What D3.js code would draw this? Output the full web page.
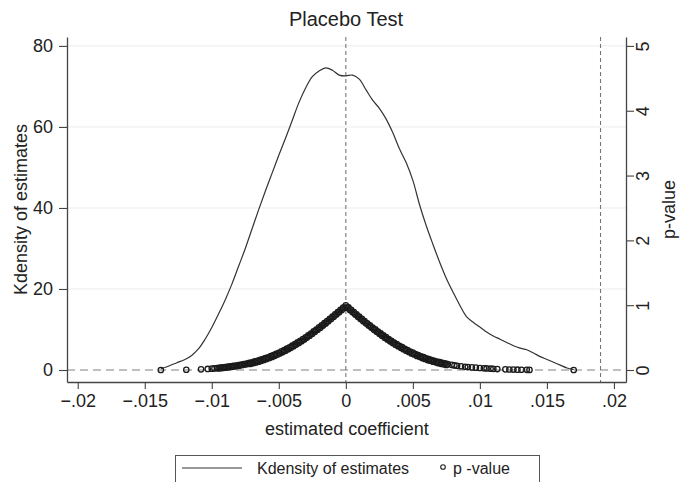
<!DOCTYPE html>
<html>
<head>
<meta charset="utf-8">
<script src="https://cdn.jsdelivr.net/npm/d3@7"></script>
<style>
  body { margin: 0; background: #fff; }
  svg { display: block; font-family: "Liberation Sans", Arial, sans-serif; }
</style>
</head>
<body>
<svg></svg>
<script>
'use strict';

// Kernel density of the placebo estimates (coefficient, density)
var densityCoef = [-0.0138, -0.0132, -0.0126, -0.0120, -0.0115, -0.0110, -0.0105, -0.0100, -0.0095, -0.0090,
  -0.0085, -0.0080, -0.0075, -0.0070, -0.0065, -0.0060, -0.0055, -0.0050, -0.0045, -0.0040,
  -0.0035, -0.0030, -0.0025, -0.0020, -0.0015, -0.0010, -0.0005, 0.0000, 0.0005, 0.0010,
  0.0015, 0.0020, 0.0025, 0.0030, 0.0035, 0.0040, 0.0045, 0.0050, 0.0055, 0.0060,
  0.0065, 0.0070, 0.0075, 0.0080, 0.0085, 0.0090, 0.0095, 0.0100, 0.0105, 0.0110,
  0.0115, 0.0120, 0.0125, 0.0130, 0.0135, 0.0140, 0.0145, 0.0150, 0.0155, 0.0160,
  0.0165, 0.0170];
var densityValue = [0.3, 1.0, 1.8, 2.6, 3.6, 5.2, 7.6, 10.5, 13.8, 17.3,
  21.2, 25.6, 30.0, 34.8, 39.6, 44.2, 48.6, 53.0, 57.2, 61.6,
  66.0, 69.6, 72.4, 73.8, 74.6, 74.0, 72.8, 72.6, 72.8, 71.8,
  69.2, 66.6, 64.6, 62.0, 58.6, 54.6, 51.2, 46.8, 40.8, 35.6,
  31.0, 26.6, 22.6, 19.2, 16.0, 13.2, 11.8, 10.6, 9.4, 8.4,
  7.6, 6.8, 6.0, 5.4, 5.0, 4.2, 3.3, 2.6, 1.9, 1.2,
  0.5, 0.1];

// p-values of the placebo regressions (coefficient, p-value)
var pCoef = [-0.0138, -0.0119, -0.0108, -0.0103, -0.0100, -0.0098,
  -0.0096, -0.0094, -0.0092, -0.0090, -0.0088, -0.0086, -0.0084, -0.0082, -0.0080, -0.0078,
  -0.0076, -0.0074, -0.0072, -0.0070, -0.0068, -0.0066, -0.0064, -0.0062, -0.0060, -0.0058,
  -0.0056, -0.0054, -0.0052, -0.0050, -0.0048, -0.0046, -0.0044, -0.0042, -0.0040, -0.0038,
  -0.0036, -0.0034, -0.0032, -0.0030, -0.0028, -0.0026, -0.0024, -0.0022, -0.0020, -0.0018,
  -0.0016, -0.0014, -0.0012, -0.0010, -0.0008, -0.0006, -0.0004, -0.0002, 0.0000,
  0.0002, 0.0004, 0.0006, 0.0008, 0.0010, 0.0012, 0.0014, 0.0016, 0.0018, 0.0020,
  0.0022, 0.0024, 0.0026, 0.0028, 0.0030, 0.0032, 0.0034, 0.0036, 0.0038, 0.0040,
  0.0042, 0.0044, 0.0046, 0.0048, 0.0050, 0.0052, 0.0054, 0.0056, 0.0058, 0.0060,
  0.0062, 0.0064, 0.0066, 0.0068, 0.0070, 0.0072, 0.0074, 0.0076,
  0.0079, 0.0081, 0.0083, 0.0086, 0.0089, 0.0091, 0.0094, 0.0097, 0.0100, 0.0103,
  0.0105, 0.0108, 0.0110, 0.0113, 0.0119, 0.0122, 0.0125, 0.0128, 0.0131, 0.0135,
  0.0137, 0.0170];
var pValue = [0.000, 0.004, 0.010, 0.016, 0.021, 0.025,
  0.031, 0.036, 0.040, 0.044, 0.052, 0.055, 0.063, 0.067, 0.076, 0.082,
  0.092, 0.099, 0.111, 0.119, 0.132, 0.141, 0.156, 0.167, 0.183, 0.196,
  0.214, 0.229, 0.249, 0.266, 0.287, 0.306, 0.329, 0.350, 0.375, 0.398,
  0.425, 0.449, 0.478, 0.504, 0.535, 0.562, 0.595, 0.624, 0.658, 0.688,
  0.723, 0.755, 0.791, 0.823, 0.860, 0.893, 0.930, 0.964, 0.998,
  0.965, 0.929, 0.894, 0.858, 0.824, 0.789, 0.756, 0.721, 0.689, 0.656,
  0.626, 0.593, 0.564, 0.533, 0.506, 0.476, 0.451, 0.423, 0.400, 0.373,
  0.352, 0.327, 0.308, 0.285, 0.268, 0.247, 0.231, 0.212, 0.198, 0.181,
  0.169, 0.154, 0.143, 0.130, 0.121, 0.109, 0.101, 0.090,
  0.080, 0.071, 0.066, 0.058, 0.050, 0.046, 0.040, 0.036, 0.031, 0.027,
  0.024, 0.020, 0.018, 0.015, 0.010, 0.008, 0.007, 0.005, 0.004, 0.003,
  0.002, 0.000];

// more regressions that sit in the dense band
var pCoefBand = [-0.0095, -0.0093, -0.0091, -0.0089, -0.0087, -0.0085, -0.0083, -0.0081,
  -0.0079, -0.0077, -0.0075, -0.0073, -0.0071, -0.0069, -0.0067, -0.0065, -0.0063, -0.0061,
  -0.0059, -0.0057, -0.0055, -0.0053, -0.0051, -0.0049, -0.0047, -0.0045, -0.0043, -0.0041,
  -0.0039, -0.0037, -0.0035, -0.0033, -0.0031, -0.0029, -0.0027, -0.0025, -0.0023, -0.0021,
  -0.0019, -0.0017, -0.0015, -0.0013, -0.0011, -0.0009, -0.0007, -0.0005, -0.0003, -0.0001,
  0.0001, 0.0003, 0.0005, 0.0007, 0.0009, 0.0011, 0.0013, 0.0015, 0.0017, 0.0019,
  0.0021, 0.0023, 0.0025, 0.0027, 0.0029, 0.0031, 0.0033, 0.0035, 0.0037, 0.0039,
  0.0041, 0.0043, 0.0045, 0.0047, 0.0049, 0.0051, 0.0053, 0.0055, 0.0057, 0.0059,
  0.0061, 0.0063, 0.0065, 0.0067, 0.0069, 0.0071, 0.0073, 0.0075];
var pValueBand = [0.025, 0.029, 0.034, 0.038, 0.043, 0.049, 0.055, 0.062,
  0.069, 0.077, 0.086, 0.094, 0.095, 0.106, 0.117, 0.129, 0.142, 0.155,
  0.170, 0.185, 0.202, 0.219, 0.238, 0.257, 0.277, 0.298, 0.320, 0.343,
  0.367, 0.392, 0.417, 0.444, 0.471, 0.500, 0.529, 0.559, 0.590, 0.621,
  0.653, 0.686, 0.719, 0.753, 0.787, 0.822, 0.857, 0.892, 0.927, 0.963,
  0.962, 0.926, 0.891, 0.856, 0.821, 0.788, 0.752, 0.720, 0.685, 0.654,
  0.620, 0.591, 0.558, 0.530, 0.499, 0.472, 0.443, 0.418, 0.391, 0.368,
  0.342, 0.321, 0.297, 0.278, 0.256, 0.239, 0.218, 0.203, 0.184, 0.171,
  0.154, 0.143, 0.128, 0.118, 0.105, 0.096, 0.087, 0.078];

var xTicks = [-0.02, -0.015, -0.01, -0.005, 0, 0.005, 0.01, 0.015, 0.02];
var yTicks = [0, 20, 40, 60, 80];
var pTicks = [0, 1, 2, 3, 4, 5];
var vLines = [0, 0.019];   // reference lines on the x axis

var canvasWidth = 680;
var canvasHeight = 482;
var plot = { left: 67, right: 626, top: 37, bottom: 382 };
var axisColor = '#444';
var textColor = '#222';

var svg = d3.select('svg')
  .attr('width', canvasWidth)
  .attr('height', canvasHeight);

var xScale = d3.scaleLinear().domain([-0.0208, 0.0209]).range([plot.left, plot.right]);
var yScale = d3.scaleLinear().domain([-2.96, 82.2]).range([plot.bottom, plot.top]);
var pScale = d3.scaleLinear().domain([-2.96 / 16, 82.2 / 16]).range([plot.bottom, plot.top]);

// stata style numbers: no leading zero
var fmtX = function(d) {
  if (d === 0) { return '0'; }
  return d3.format('.3~f')(d).replace('0.', '.');
};

// grid lines
svg.append('g').selectAll('line').data(yTicks.filter(function(d) { return d > 0; }))
  .enter().append('line')
  .attr('x1', plot.left).attr('x2', plot.right)
  .attr('y1', function(d) { return yScale(d); })
  .attr('y2', function(d) { return yScale(d); })
  .attr('stroke', '#ececec').attr('stroke-width', 1);

// horizontal dashed line at zero
svg.append('line')
  .attr('x1', plot.left).attr('x2', plot.right)
  .attr('y1', yScale(0)).attr('y2', yScale(0))
  .attr('stroke', '#aaa').attr('stroke-width', 1.4)
  .attr('stroke-dasharray', '8,5');

// vertical dashed lines
svg.append('g').selectAll('line').data(vLines)
  .enter().append('line')
  .attr('x1', function(d) { return xScale(d); })
  .attr('x2', function(d) { return xScale(d); })
  .attr('y1', plot.top).attr('y2', plot.bottom)
  .attr('stroke', '#777').attr('stroke-width', 1.1)
  .attr('stroke-dasharray', '4,3');

// density curve
var densityData = densityCoef.map(function(c, i) { return [c, densityValue[i]]; });
var line = d3.line()
  .x(function(d) { return xScale(d[0]); })
  .y(function(d) { return yScale(d[1]); })
  .curve(d3.curveCatmullRom);
svg.append('path')
  .datum(densityData)
  .attr('d', line)
  .attr('fill', 'none')
  .attr('stroke', '#333')
  .attr('stroke-width', 1.2);

// p-value markers
var pData = pCoef.map(function(c, i) { return [c, pValue[i]]; })
  .concat(pCoefBand.map(function(c, i) { return [c, pValueBand[i]]; }));
svg.append('g').selectAll('circle').data(pData)
  .enter().append('circle')
  .attr('cx', function(d) { return xScale(d[0]); })
  .attr('cy', function(d) { return pScale(d[1]); })
  .attr('r', 2.7)
  .attr('fill', 'none')
  .attr('stroke', '#1a1a1a')
  .attr('stroke-width', 1.3);

// axes
var xAxis = svg.append('g')
  .attr('transform', 'translate(0,' + plot.bottom + ')')
  .call(d3.axisBottom(xScale).tickValues(xTicks).tickFormat(fmtX).tickSize(7).tickSizeOuter(0).tickPadding(5));

var yAxis = svg.append('g')
  .attr('transform', 'translate(' + plot.left + ',0)')
  .call(d3.axisLeft(yScale).tickValues(yTicks).tickSize(8).tickSizeOuter(0).tickPadding(6));

var pAxis = svg.append('g')
  .attr('transform', 'translate(' + plot.right + ',0)')
  .call(d3.axisRight(pScale).tickValues(pTicks).tickFormat(d3.format('d')).tickSize(8).tickSizeOuter(0));

[xAxis, yAxis, pAxis].forEach(function(a) {
  a.select('.domain').attr('stroke', axisColor).attr('stroke-width', 1.3);
  a.selectAll('.tick line').attr('stroke', axisColor).attr('stroke-width', 1.1);
  a.selectAll('text').attr('fill', textColor).style('font-size', '18px')
    .style('font-family', '"Liberation Sans", Arial, sans-serif');
});

// right axis labels are vertical
pAxis.selectAll('.tick text')
  .attr('x', 0)
  .attr('dy', '0.35em')
  .attr('text-anchor', 'middle')
  .attr('transform', 'translate(17,0) rotate(-90)');

// titles
svg.append('text')
  .attr('x', 346).attr('y', 26)
  .attr('text-anchor', 'middle')
  .attr('fill', textColor)
  .style('font-size', '20px')
  .text('Placebo Test');

svg.append('text')
  .attr('x', 347).attr('y', 435)
  .attr('text-anchor', 'middle')
  .attr('fill', textColor)
  .style('font-size', '18px')
  .text('estimated coefficient');

svg.append('text')
  .attr('transform', 'translate(21,' + ((plot.top + plot.bottom) / 2) + ') rotate(-90)')
  .attr('dy', '0.35em')
  .attr('text-anchor', 'middle')
  .attr('fill', textColor)
  .style('font-size', '18px')
  .text('Kdensity of estimates');

svg.append('text')
  .attr('transform', 'translate(669,' + ((plot.top + plot.bottom) / 2) + ') rotate(-90)')
  .attr('dy', '0.35em')
  .attr('text-anchor', 'middle')
  .attr('fill', textColor)
  .style('font-size', '18px')
  .text('p-value');

// legend
var legend = svg.append('g');
legend.append('rect')
  .attr('x', 175.5).attr('y', 455.5)
  .attr('width', 364).attr('height', 40)
  .attr('fill', '#fff')
  .attr('stroke', '#555').attr('stroke-width', 1);
legend.append('line')
  .attr('x1', 182).attr('x2', 242)
  .attr('y1', 468).attr('y2', 468)
  .attr('stroke', '#333').attr('stroke-width', 1.2);
legend.append('text')
  .attr('x', 257).attr('y', 474)
  .attr('fill', textColor)
  .style('font-size', '16px')
  .text('Kdensity of estimates');
legend.append('circle')
  .attr('cx', 443).attr('cy', 467)
  .attr('r', 2.3)
  .attr('fill', 'none')
  .attr('stroke', '#222').attr('stroke-width', 1.1);
legend.append('text')
  .attr('x', 453).attr('y', 474)
  .attr('fill', textColor)
  .style('font-size', '16px')
  .text('p -value');
</script>
</body>
</html>
